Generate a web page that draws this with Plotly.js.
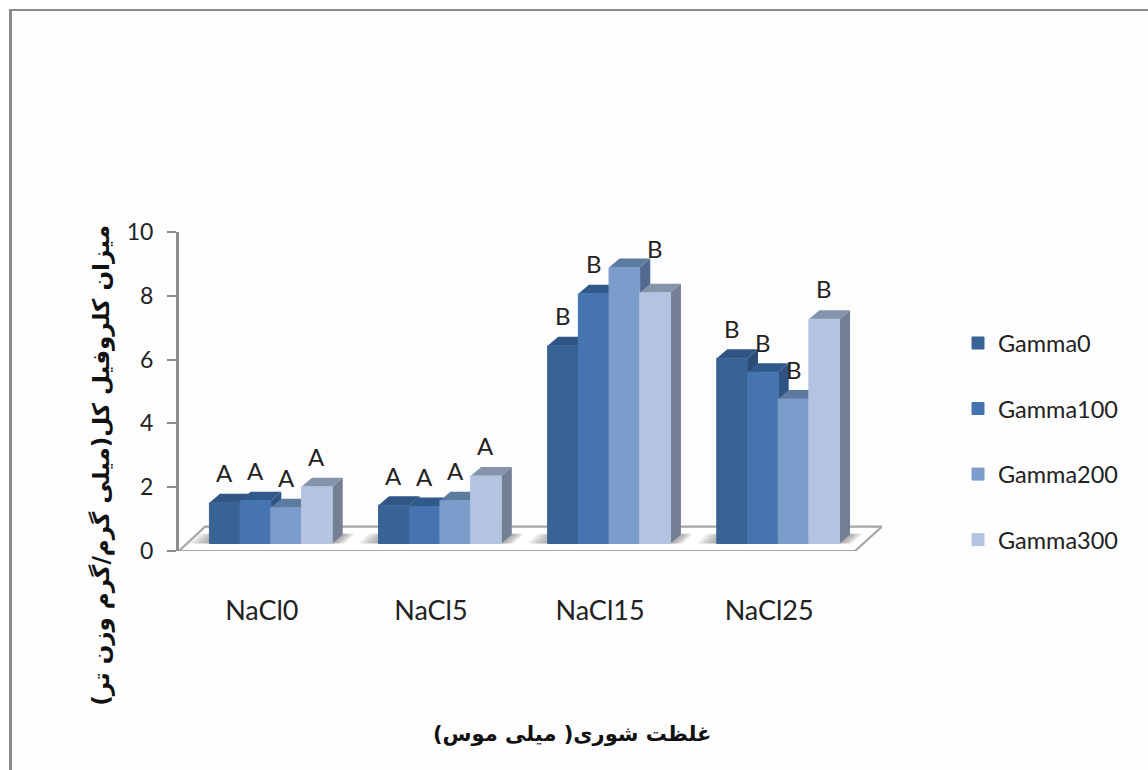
<!DOCTYPE html>
<html>
<head>
<meta charset="utf-8">
<script src="https://cdn.plot.ly/plotly-3.0.1.min.js"></script>
<style>
html,body{margin:0;padding:0;background:#fff;overflow:hidden}
#frame{position:absolute;left:9px;top:9px;width:1139px;height:761px;box-sizing:border-box;border-left:3px solid #8a8a8a;border-top:2px solid #8a8a8a;background:#fdfdfd}
#chart{position:absolute;left:0;top:0;width:1148px;height:770px}
</style>
</head>
<body>
<div id="frame"></div>
<div id="chart"></div>
<script>
const categories = ['NaCl0', 'NaCl5', 'NaCl15', 'NaCl25'];
const gamma0   = [1.28, 1.20, 6.20, 5.81];
const gamma100 = [1.34, 1.16, 7.83, 5.37];
const gamma200 = [1.12, 1.34, 8.65, 4.53];
const gamma300 = [1.78, 2.12, 7.86, 7.03];
const seriesNames = ['Gamma0', 'Gamma100', 'Gamma200', 'Gamma300'];
const labels0   = ['A', 'A', 'B', 'B'];
const labels100 = ['A', 'A', 'B', 'B'];
const labels200 = ['A', 'A', '',  'B'];
const labels300 = ['A', 'A', 'B', 'B'];
const labelRaise300 = [30, 30, 44, 31];
const yTicks = [0, 2, 4, 6, 8, 10];

const frontColors = ['#386395', '#4674b0', '#7c9ccb', '#b4c4e0'];
const topColors   = ['#2f5584', '#315a8c', '#5d7a9f', '#8594ab'];
const sideColors  = ['#2b4d75', '#2f5484', '#52698f', '#747f93'];

const xTitle = '\u202Bغلظت شوری( میلی موس)\u202C';
const yTitle = '\u202Bمیزان کلروفیل کل(میلی گرم/گرم وزن تر)\u202C';

const seriesValues = [gamma0, gamma100, gamma200, gamma300];
const seriesLabels = [labels0, labels100, labels200, labels300];
const xs = categories.map((_, i) => i);

/* geometry of the pseudo-3D look, in axis units */
const PX_X = 169.1, PX_Y = 32;
const bargap = 0.274;
const barW = (1 - bargap) / 4;
const lift = 7.5 / PX_Y;
const dx = 10.5 / PX_X, dy = 9 / PX_Y;
const xMin = -0.543, xMax = 3.614;
const labelShift = 9 / PX_X;

const poly = (pts, fill, extra) => Object.assign({
  type: 'path', xref: 'x', yref: 'y', layer: 'below',
  path: 'M' + pts.map(p => p[0] + ',' + p[1]).join('L') + 'Z',
  fillcolor: fill, line: {width: 0}
}, extra || {});

const shapes = [];
/* floor */
shapes.push(poly([[xMin, 0], [xMax - 27 / PX_X, 0], [xMax, 24.5 / PX_Y], [xMin + 26 / PX_X, 24.5 / PX_Y]],
  '#ffffff', {line: {color: '#a6a6a6', width: 2.2}}));
/* shadows on the floor */
xs.forEach(i => {
  const l = i - 2 * barW, r = i + 2 * barW;
  [20, 16, 12, 8, 4].forEach(px => {
    const e = px / PX_X;
    shapes.push(poly([[l - e, lift], [r + e * 0.6, lift], [r + e * 0.6 + dx, lift + dy * 1.1], [l - e + dx, lift + dy * 1.1]],
      'rgba(90,90,90,0.13)'));
  });
});
/* side and top faces, painted left to right */
xs.forEach(i => {
  seriesValues.forEach((vals, j) => {
    const x0 = i + (j - 2) * barW, x1 = x0 + barW, t = vals[i] + lift;
    shapes.push(poly([[x1, lift], [x1 + dx, lift + dy], [x1 + dx, t + dy], [x1, t]], sideColors[j]));
    shapes.push(poly([[x0, t], [x1, t], [x1 + dx, t + dy], [x0 + dx, t + dy]], topColors[j]));
  });
});

const traces = seriesValues.map((vals, j) => ({
  type: 'bar', name: seriesNames[j], x: xs, y: vals,
  base: vals.map(() => lift),
  legendgroup: seriesNames[j],
  marker: {color: frontColors[j], line: {color: frontColors[j], width: 1}},
  hoverinfo: 'name+y'
}));

const textColor = '#222222';
const annotations = [];
xs.forEach(i => {
  seriesValues.forEach((vals, j) => {
    if (!seriesLabels[j][i]) return;
    annotations.push({
      x: i + (j - 1.5) * barW, y: vals[i] + lift, xref: 'x', yref: 'y',
      yshift: j === 3 ? labelRaise300[i] : 30,
      text: seriesLabels[j][i], showarrow: false, xanchor: 'center', yanchor: 'middle',
      font: {family: 'Lato, sans-serif', size: 24, color: textColor}
    });
  });
});
annotations.push({
  xref: 'paper', yref: 'paper', x: (572 - 179) / 703, y: (551.5 - 735) / 320,
  text: xTitle, showarrow: false, xanchor: 'center', yanchor: 'middle',
  font: {family: '"DejaVu Sans", sans-serif', size: 21, color: '#111', weight: 'bold'}
});
annotations.push({
  xref: 'paper', yref: 'paper', x: (102 - 179) / 703, y: (551.5 - 466) / 320,
  text: yTitle, textangle: -90, showarrow: false, xanchor: 'center', yanchor: 'middle',
  font: {family: '"DejaVu Sans", sans-serif', size: 23, color: '#111', weight: 'bold'}
});

const layout = {
  width: 1148, height: 770,
  margin: {l: 179, r: 266, t: 231.5, b: 218.5},
  paper_bgcolor: 'rgba(0,0,0,0)', plot_bgcolor: 'rgba(0,0,0,0)',
  barmode: 'group', bargap: bargap, bargroupgap: 0,
  showlegend: true,
  legend: {
    x: (958 - 179) / 703, y: (551.5 - 321) / 320, xanchor: 'left', yanchor: 'top',
    traceorder: 'grouped', tracegroupgap: 32, bgcolor: 'rgba(0,0,0,0)',
    font: {family: 'Lato, sans-serif', size: 23.5, color: textColor}
  },
  xaxis: {
    type: 'linear', range: [xMin, xMax], showgrid: false, zeroline: false, showline: false,
    tickmode: 'array', tickvals: xs.map(i => i - labelShift), ticktext: categories,
    ticks: '', ticklabelstandoff: 41,
    tickfont: {family: 'Lato, sans-serif', size: 27, color: textColor}
  },
  yaxis: {
    range: [0, 10], showgrid: false, zeroline: false, showline: true,
    linecolor: '#8c8c8c', linewidth: 3, ticks: 'outside', ticklen: 9, tickwidth: 2, tickcolor: '#8c8c8c',
    tickmode: 'array', tickvals: yTicks, ticklabelstandoff: 9,
    tickfont: {family: 'Lato, sans-serif', size: 23, color: textColor}
  },
  shapes: shapes, annotations: annotations
};
Plotly.newPlot('chart', traces, layout, {displayModeBar: false, responsive: false});
</script>
</body>
</html>
